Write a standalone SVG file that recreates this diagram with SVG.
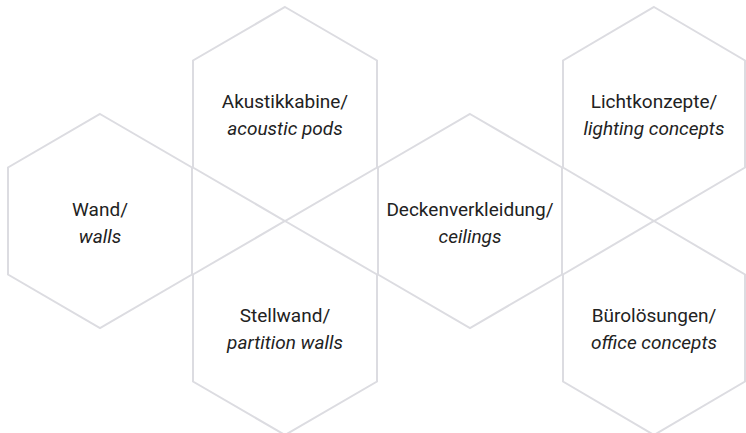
<svg xmlns="http://www.w3.org/2000/svg" width="746" height="433" viewBox="0 0 746 433">
<style>
.hex{fill:none;stroke:#dcdce1;stroke-width:2;stroke-linejoin:miter}
.t{font-family:Roboto,"Liberation Sans",sans-serif;font-size:19px;fill:#222;text-anchor:middle}
.i{font-style:italic}
</style>
<rect width="746" height="433" fill="#fff"/>
<g id="connectors"></g>
<g id="wand">
<polygon class="hex" points="100,114 192,167.5 192,274.5 100,328 8,274.5 8,167.5"/>
<text class="t" x="100" y="216">Wand/</text>
<text class="t i" x="100" y="243">walls</text>
</g>
<g id="akustikkabine">
<polygon class="hex" points="285,7 377,60.5 377,167.5 285,221 193,167.5 193,60.5"/>
<text class="t" x="285" y="108">Akustikkabine/</text>
<text class="t i" x="285" y="135">acoustic pods</text>
</g>
<g id="stellwand">
<polygon class="hex" points="285,221 377,274.5 377,381.5 285,435 193,381.5 193,274.5"/>
<text class="t" x="285" y="322">Stellwand/</text>
<text class="t i" x="285" y="349">partition walls</text>
</g>
<g id="deckenverkleidung">
<polygon class="hex" points="470,114 562,167.5 562,274.5 470,328 378,274.5 378,167.5"/>
<text class="t" x="470" y="216">Deckenverkleidung/</text>
<text class="t i" x="470" y="243">ceilings</text>
</g>
<g id="lichtkonzepte">
<polygon class="hex" points="654,7 745,60.5 745,167.5 654,221 563,167.5 563,60.5"/>
<text class="t" x="654" y="108">Lichtkonzepte/</text>
<text class="t i" x="654" y="135">lighting concepts</text>
</g>
<g id="buerol">
<polygon class="hex" points="654,221 745,274.5 745,381.5 654,435 563,381.5 563,274.5"/>
<text class="t" x="654" y="322">Bürolösungen/</text>
<text class="t i" x="654" y="349">office concepts</text>
</g>
</svg>
